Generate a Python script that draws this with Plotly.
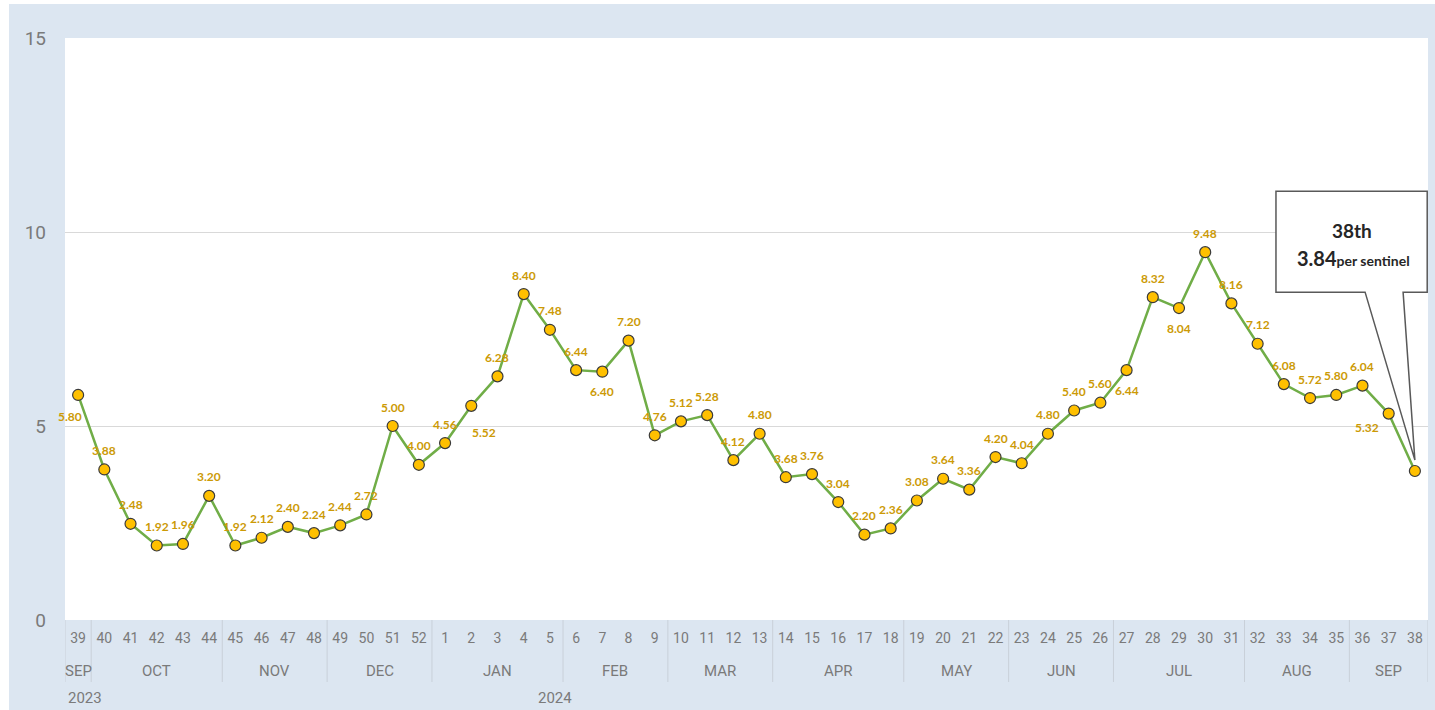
import plotly.graph_objects as go

# ---- data ----
weeks = ["39", "40", "41", "42", "43", "44", "45", "46", "47", "48", "49", "50", "51", "52",
         "1", "2", "3", "4", "5", "6", "7", "8", "9", "10", "11", "12", "13",
         "14", "15", "16", "17", "18", "19", "20", "21", "22", "23", "24", "25", "26",
         "27", "28", "29", "30", "31", "32", "33", "34", "35", "36", "37", "38"]
values = [5.80, 3.88, 2.48, 1.92, 1.96, 3.20, 1.92, 2.12, 2.40, 2.24, 2.44, 2.72, 5.00, 4.00,
          4.56, 5.52, 6.28, 8.40, 7.48, 6.44, 6.40, 7.20, 4.76, 5.12, 5.28, 4.12, 4.80,
          3.68, 3.76, 3.04, 2.20, 2.36, 3.08, 3.64, 3.36, 4.20, 4.04, 4.80, 5.40, 5.60,
          6.44, 8.32, 8.04, 9.48, 8.16, 7.12, 6.08, 5.72, 5.80, 6.04, 5.32, 3.84]
months = ["SEP", "OCT", "NOV", "DEC", "JAN", "FEB", "MAR", "APR", "MAY", "JUN", "JUL", "AUG", "SEP"]
month_week_counts = [1, 5, 4, 4, 5, 4, 4, 5, 4, 4, 5, 4, 3]
years = ["2023", "2024"]
y_ticks = [0, 5, 10, 15]
callout_week = "38th"
callout_unit = "per sentinel"

# ---- styles ----
BG = "#dce6f1"
LABEL_COLOR = "#cc9a06"
TICK_COLOR = "#7a7a7a"
# label placement codes: (xshift, yshift) in pixels
label_style = {"a": (0, 19), "b": (0, -20), "bl": (-22, -14), "br": (13, -27),
               "first": (-8, -22), "none": None}
label_place = ["first", "a", "a", "a", "a", "a", "a", "a", "a", "a", "a", "a", "a", "a",
               "a", "br", "a", "a", "a", "a", "b", "a", "a", "a", "a", "a", "a",
               "a", "a", "a", "a", "a", "a", "a", "a", "a", "a", "a", "a", "a",
               "b", "a", "b", "a", "a", "a", "a", "a", "a", "a", "bl", "none"]

n = len(values)
xs = list(range(n))

fig = go.Figure()
fig.add_trace(go.Scatter(
    x=xs, y=values, mode="lines+markers",
    line=dict(color="#70ad47", width=2.5),
    marker=dict(size=11, color="#ffc000", line=dict(color="#3a3a3a", width=1.2)),
    hoverinfo="y", showlegend=False))

annotations = []
for i, v in enumerate(values):
    st = label_style[label_place[i]]
    if st is None:
        continue
    annotations.append(dict(x=i, y=v, xref="x", yref="y", text=f"<b>{v:.2f}</b>",
                            showarrow=False, xshift=st[0], yshift=st[1],
                            font=dict(family="Lato, Open Sans, sans-serif", size=12, color=LABEL_COLOR)))

# month labels and separators
shapes = []
plot_h = 582.0
sep_y1 = -(682 - 620) / plot_h
start = 0
bounds = [-0.5]
for m, c in zip(months, month_week_counts):
    center = start + (c - 1) / 2
    annotations.append(dict(x=center, y=-(671 - 620) / plot_h, xref="x", yref="paper",
                            text=m, showarrow=False, yanchor="middle",
                            font=dict(family="Roboto, sans-serif", size=15, color=TICK_COLOR)))
    start += c
    bounds.append(start - 0.5)
for b in bounds:
    shapes.append(dict(type="line", xref="x", yref="paper", x0=b, x1=b, y0=0, y1=sep_y1,
                       line=dict(color="#c9d0d9", width=1)))

# year labels (positioned as in original)
year_pos = [0.27, 18.2]
for yr, xp in zip(years, year_pos):
    annotations.append(dict(x=xp, y=-(698 - 620) / plot_h, xref="x", yref="paper",
                            text=yr, showarrow=False, yanchor="middle",
                            font=dict(family="Roboto, sans-serif", size=15, color=TICK_COLOR)))

# callout bubble pointing to the last point
lx = n - 1
lv = values[-1]
bx0, bx1 = lx - 5.3, lx + 0.47
by0, by1 = 8.45, 11.05
p0, p1 = lx - 1.9, lx - 0.45
tip = (lx, lv + 0.28)
path = (f"M {bx0},{by1} L {bx1},{by1} L {bx1},{by0} L {p1},{by0} L {tip[0]},{tip[1]} "
        f"L {p0},{by0} L {bx0},{by0} Z")
shapes.append(dict(type="path", xref="x", yref="y", path=path,
                   fillcolor="white", line=dict(color="#595959", width=1.5), layer="above"))
annotations.append(dict(x=lx - 2.4, y=10.05, xref="x", yref="y", showarrow=False,
                        text=f"<b>{callout_week}</b>",
                        font=dict(family="Lato, Open Sans, sans-serif", size=19, color="#262626")))
annotations.append(dict(x=lx - 2.35, y=9.33, xref="x", yref="y", showarrow=False,
                        text=f"<b>{lv:.2f}</b><span style='font-size:14px'><b>{callout_unit}</b></span>",
                        font=dict(family="Lato, Open Sans, sans-serif", size=20, color="#262626")))

# white outer strips (left/top) like original framing
plot_w = 1363.0
shapes.append(dict(type="rect", xref="paper", yref="paper",
                   x0=-65 / plot_w, x1=-56 / plot_w, y0=-90 / plot_h, y1=38 / plot_h + 1,
                   fillcolor="white", line=dict(width=0), layer="below"))
shapes.append(dict(type="rect", xref="paper", yref="paper",
                   x0=-65 / plot_w, x1=1 + 7 / plot_w, y0=1 + 34 / plot_h, y1=1 + 38 / plot_h,
                   fillcolor="white", line=dict(width=0), layer="below"))

fig.update_layout(
    width=1435, height=710,
    margin=dict(l=65, r=7, t=38, b=90),
    paper_bgcolor=BG, plot_bgcolor="white",
    xaxis=dict(range=[-0.5, n - 0.5], tickvals=xs, ticktext=weeks, showgrid=False,
               zeroline=False, showline=False, ticks="", ticklabelstandoff=8,
               tickfont=dict(family="Roboto, sans-serif", size=14, color=TICK_COLOR),
               fixedrange=True),
    yaxis=dict(range=[0, 15], tickvals=y_ticks, showgrid=True, gridcolor="#d9d9d9",
               gridwidth=1, zeroline=False, showline=False, ticks="",
               ticklabelstandoff=18,
               tickfont=dict(family="Roboto, sans-serif", size=19, color=TICK_COLOR),
               fixedrange=True),
    annotations=annotations, shapes=shapes,
)

fig.write_html("out.html", config={"displayModeBar": False},
               post_script="document.body.style.margin='0';document.body.style.overflow='hidden';")
